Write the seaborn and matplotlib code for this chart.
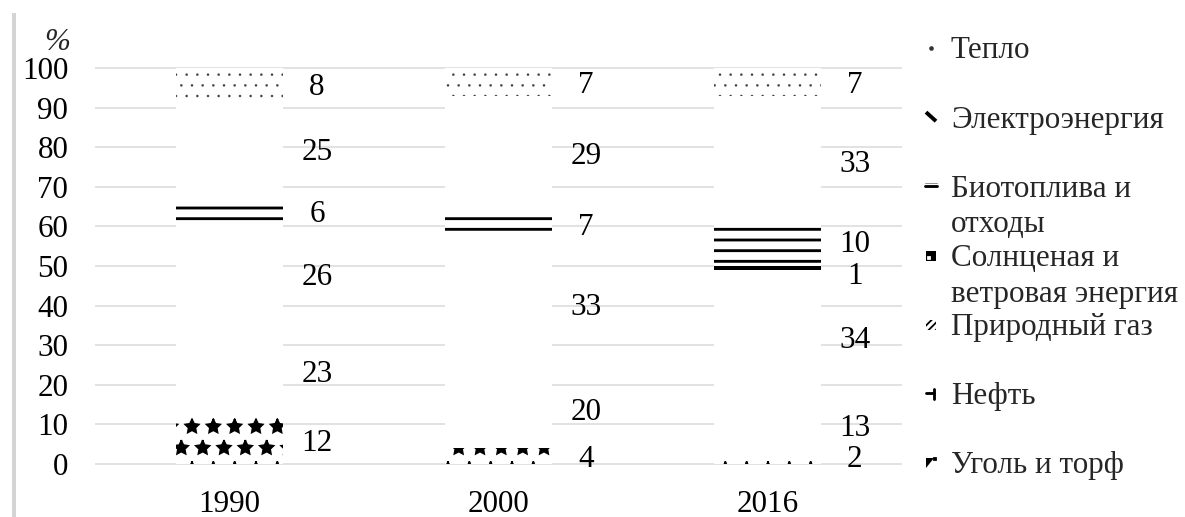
import matplotlib
matplotlib.use("Agg")
import matplotlib.pyplot as plt
import seaborn as sns
import numpy as np
from matplotlib.patches import Rectangle, Polygon
from matplotlib.lines import Line2D

# ---------------- data ----------------
years = ["1990", "2000", "2016"]
coal_peat = [12, 4, 2]
oil = [23, 20, 13]
natural_gas = [26, 33, 34]
solar_wind = [0, 0, 1]
biofuel_waste = [6, 7, 10]
electricity = [25, 29, 33]
heat = [8, 7, 7]
y_ticks = [0, 10, 20, 30, 40, 50, 60, 70, 80, 90, 100]
unit_label = "%"
series_labels = ["Уголь и торф", "Нефть", "Природный газ",
                 "Солнценая и\nветровая энергия", "Биотоплива и\nотходы",
                 "Электроэнергия", "Тепло"]
series_values = [coal_peat, oil, natural_gas, solar_wind, biofuel_waste,
                 electricity, heat]

# ---------------- styles ----------------
styles = [
    dict(face="white", hc="black", hatch="*", hlw=1.0),   # coal
    dict(face="white", hc="black", hatch="", hlw=1.0),    # oil
    dict(face="white", hc="black", hatch="", hlw=1.0),    # gas
    dict(face="black", hc="white", hatch=".", hlw=0.6),   # solar / wind
    dict(face="white", hc="black", hatch="--", hlw=1.6),  # bio
    dict(face="white", hc="black", hatch="", hlw=1.0),    # electricity
    dict(face="white", hc="#444444", hatch="..", hlw=0.2),# heat
]

DPI = 128
W, H = 1185, 517
FS = 17.5

sns.set_theme(style="white")
plt.rcParams["font.family"] = ["Liberation Serif", "DejaVu Serif"]

fig = plt.figure(figsize=(W / DPI, H / DPI), dpi=DPI)
fig.patch.set_facecolor("white")
y0_px, y100_px = 465.2, 66.8
ax = fig.add_axes([95 / W, (H - y0_px) / H, 807 / W, (y0_px - y100_px) / H])

bottom = np.zeros(len(years))
label_pos = [[] for _ in years]   # per bar: (center, text)
for vals, st in zip(series_values, styles):
    vals = np.asarray(vals, dtype=float)
    n_before = len(ax.patches)
    with plt.rc_context({"hatch.linewidth": st["hlw"], "hatch.color": st["hc"]}):
        sns.barplot(x=years, y=vals, order=years, bottom=bottom, width=0.4,
                    color=st["face"], saturation=1, edgecolor=st["hc"],
                    linewidth=0, hatch=st["hatch"], errorbar=None, ax=ax)
    for p in ax.patches[n_before:]:
        p.set_facecolor(st["face"])
        p.set_edgecolor(st["hc"])
        p.set_linewidth(0)
        p.set_hatch(st["hatch"] if st["hatch"] else None)
        if hasattr(p, "set_hatch_linewidth"):
            p.set_hatch_linewidth(st["hlw"])
    for i, v in enumerate(vals):
        if v > 0:
            label_pos[i].append([bottom[i] + v / 2, f"{int(v)}"])
    bottom = bottom + vals

# simple collision avoidance for value labels in each bar
MIN_GAP = 8.0
for i, labs in enumerate(label_pos):
    labs.sort(key=lambda t: t[0])
    for _ in range(5):
        for j in range(len(labs) - 1):
            lo, hi = labs[j], labs[j + 1]
            gap = hi[0] - lo[0]
            if gap < MIN_GAP:
                d = (MIN_GAP - gap) / 2
                lo[0] -= d
                hi[0] += d
        if labs and labs[0][0] < 2.0:
            labs[0][0] = 2.0
    for yc, txt in labs:
        ax.annotate(txt, xy=(i + 0.325, yc), xytext=(0, -2),
                    textcoords="offset points", ha="center", va="center",
                    fontsize=FS, color="black")

ax.set_xlim(-0.5, 2.5)
ax.set_ylim(-0.3, 100.3)
ax.set_yticks(y_ticks)
ax.set_xlabel("")
ax.set_ylabel("")
for s in ax.spines.values():
    s.set_visible(False)
ax.yaxis.grid(True, color="#d9d9d9", linewidth=0.85)
ax.xaxis.grid(False)
ax.set_axisbelow(True)
ax.tick_params(axis="y", length=0, labelsize=FS, pad=15.0, colors="black")
ax.tick_params(axis="x", length=0, labelsize=FS, pad=14.0, colors="black")

# unit label
fig.text(57 / W, 1 - 43 / H, unit_label, style="italic", ha="center",
         va="center", fontsize=FS)

# page border at the left
fig.add_artist(Rectangle((12 / W, 0), 4 / W, (H - 13) / H,
                         transform=fig.transFigure, color="#d4d4d4", lw=0))

# ---------------- manual legend ----------------
def fx(x):
    return x / W

def fy(y):
    return 1 - y / H

centers = np.linspace(48, 463, 7)
legend_order = list(range(6, -1, -1))  # heat on top ... coal at bottom
T = fig.transFigure
for k, idx in enumerate(legend_order):
    c = centers[k]
    fig.text(fx(951), fy(c - 11.5), series_labels[idx], ha="left",
             va="top", fontsize=FS, linespacing=1.3)
    if idx == 6:    # heat
        fig.add_artist(Line2D([fx(931)], [fy(c)], marker="o", ms=1.6,
                              color="#333333", transform=T))
    elif idx == 5:  # electricity
        fig.add_artist(Line2D([fx(926), fx(936)], [fy(c - 5), fy(c + 4)],
                              lw=2.2, color="black", transform=T,
                              solid_capstyle="butt"))
    elif idx == 4:  # bio
        fig.add_artist(Line2D([fx(925), fx(937)], [fy(c - 3), fy(c - 3)],
                              lw=0.5, color="#888888", transform=T))
        fig.add_artist(Line2D([fx(925), fx(937)], [fy(c), fy(c)],
                              lw=1.6, color="black", transform=T))
    elif idx == 3:  # solar
        fig.add_artist(Rectangle((fx(926), fy(c + 5)), 10 / W, 10 / H,
                                 transform=T, color="black", lw=0))
        fig.add_artist(Line2D([fx(929)], [fy(c + 2)], marker="s", ms=1.2,
                              color="white", transform=T))
    elif idx == 2:  # gas
        r = Rectangle((fx(926), fy(c + 5)), 10 / W, 10 / H, transform=T,
                      facecolor="white", edgecolor="black", lw=0,
                      hatch="//////")
        fig.add_artist(r)
    elif idx == 1:  # oil
        fig.add_artist(Line2D([fx(926), fx(934)], [fy(c - 1), fy(c - 1)],
                              lw=1.6, color="black", transform=T))
        fig.add_artist(Line2D([fx(934), fx(934)], [fy(c - 5), fy(c + 5)],
                              lw=1.6, color="black", transform=T))
    elif idx == 0:  # coal
        fig.add_artist(Polygon([(fx(926), fy(c - 5)), (fx(934), fy(c - 5)),
                                (fx(926), fy(c + 5))], closed=True,
                               transform=T, color="black", lw=0))
        fig.add_artist(Line2D([fx(935)], [fy(c - 4)], marker="s", ms=1.2,
                              color="black", transform=T))

fig.savefig("out.png", dpi=DPI)
